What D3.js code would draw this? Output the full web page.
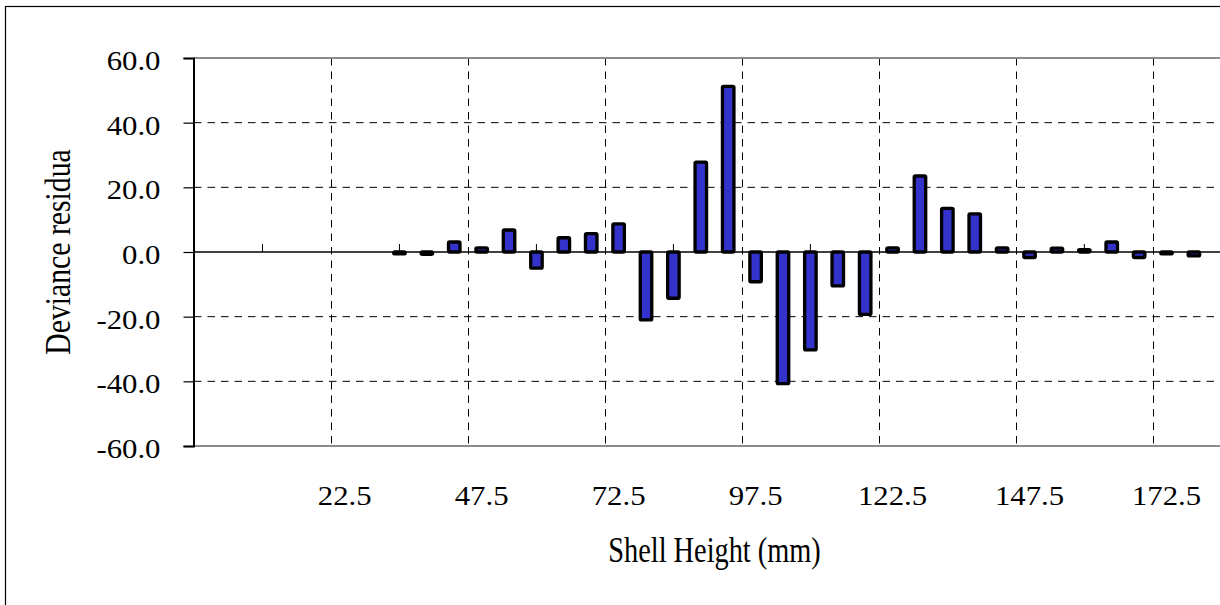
<!DOCTYPE html>
<html>
<head>
<meta charset="utf-8">
<script src="https://cdn.jsdelivr.net/npm/d3@7"></script>
<style>
  html, body { margin: 0; padding: 0; background: #fff; }
  svg { display: block; }
  text { font-family: "Liberation Serif", "Times New Roman", serif; fill: #000; }
</style>
</head>
<body>
<svg id="chart" width="1220" height="605"></svg>
<script>
// ---- data ----
const categories = [-2.5, 2.5, 7.5, 12.5, 17.5, 22.5, 27.5, 32.5, 37.5, 42.5,
  47.5, 52.5, 57.5, 62.5, 67.5, 72.5, 77.5, 82.5, 87.5, 92.5,
  97.5, 102.5, 107.5, 112.5, 117.5, 122.5, 127.5, 132.5, 137.5, 142.5,
  147.5, 152.5, 157.5, 162.5, 167.5, 172.5, 177.5, 182.5];
const residuals = [null, null, null, null, null, null, null,
  -0.6, -0.7, 3.1, 1.3, 6.8, -5.0, 4.4, 5.7, 8.7,
  -21.0, -14.3, 27.8, 51.2, -9.2, -40.7, -30.3, -10.5, -19.3, 1.3,
  23.5, 13.5, 11.8, 1.3, -1.7, 1.2, 0.7, 3.1, -1.7, -0.6, -1.2, null];
const xTickLabels = [22.5, 47.5, 72.5, 97.5, 122.5, 147.5, 172.5];
const xMinorTicks = [7.5, 32.5, 57.5, 82.5, 107.5, 132.5, 157.5, 182.5];
const yTicks = [-60, -40, -20, 0, 20, 40, 60];
const xTitle = "Shell Height (mm)";
const yTitle = "Deviance residua";

// ---- layout ----
const svg = d3.select("#chart");
const pLeft = 194, pRight = 1235, pTop = 58, pBottom = 446;

const x = d3.scaleBand().domain(categories).range([pLeft, pRight]).paddingInner(0).paddingOuter(0);
const y = d3.scaleLinear().domain([-60, 60]).range([pBottom, pTop]);
const bw = x.bandwidth();
const barW = bw * 0.42;

// outer chart frame
svg.append("rect").attr("x", 5.5).attr("y", 6.5).attr("width", 1400).attr("height", 800)
  .attr("fill", "none").attr("stroke", "#000").attr("stroke-width", 1.2);

// horizontal dashed gridlines
svg.append("g").selectAll("line").data(yTicks.filter(v => v !== 0 && Math.abs(v) !== 60)).join("line")
  .attr("x1", pLeft).attr("x2", 1220).attr("y1", d => y(d)).attr("y2", d => y(d))
  .attr("stroke", "#000").attr("stroke-width", 1).attr("stroke-dasharray", "7.5,6");

// vertical dashed gridlines at category boundaries before each labelled category
svg.append("g").selectAll("line").data(xTickLabels).join("line")
  .attr("x1", d => Math.round(x(d)) + 0.5).attr("x2", d => Math.round(x(d)) + 0.5)
  .attr("y1", pTop).attr("y2", pBottom)
  .attr("stroke", "#000").attr("stroke-width", 1).attr("stroke-dasharray", "7.5,6");

// plot area border (grey) top and bottom
svg.append("line").attr("x1", pLeft).attr("x2", 1220).attr("y1", y(60)).attr("y2", y(60))
  .attr("stroke", "#8c8c8c").attr("stroke-width", 2);
svg.append("line").attr("x1", pLeft).attr("x2", 1220).attr("y1", y(-60)).attr("y2", y(-60))
  .attr("stroke", "#8c8c8c").attr("stroke-width", 2);

// zero line (category axis)
svg.append("line").attr("x1", pLeft).attr("x2", 1220).attr("y1", y(0)).attr("y2", y(0))
  .attr("stroke", "#000").attr("stroke-width", 1.5);

// minor ticks on category axis
svg.append("g").selectAll("line").data(xMinorTicks).join("line")
  .attr("x1", d => x(d) + bw / 2).attr("x2", d => x(d) + bw / 2)
  .attr("y1", y(0) - 8).attr("y2", y(0))
  .attr("stroke", "#000").attr("stroke-width", 1);

// bars
const barData = categories.map((c, i) => ({ c, v: residuals[i] })).filter(d => d.v !== null);
svg.append("g").selectAll("rect").data(barData).join("rect")
  .attr("x", d => x(d.c) + (bw - barW) / 2)
  .attr("width", barW)
  .attr("y", d => y(Math.max(0, d.v)))
  .attr("height", d => Math.abs(y(d.v) - y(0)))
  .attr("rx", 1.2)
  .attr("fill", "#3333cc")
  .attr("stroke", "#000")
  .attr("stroke-width", 3.3)
  .attr("stroke-linejoin", "round");

// value axis
const yAxis = d3.axisLeft(y).tickValues(yTicks).tickSize(10).tickFormat(d => d.toFixed(1));
const gy = svg.append("g").attr("transform", `translate(${pLeft - 0.5},0)`).call(yAxis);
gy.select(".domain").attr("stroke", "#000").attr("stroke-width", 2);
gy.selectAll(".tick line").attr("stroke", "#000").attr("stroke-width", 1.2);
gy.selectAll(".tick text")
  .attr("x", null).attr("dy", null)
  .attr("font-size", 27)
  .attr("font-family", "Liberation Serif")
  .attr("fill", "#000")
  .attr("text-anchor", "end")
  .attr("transform", "translate(-33,11.5) scale(1.14,1)");

// category labels
svg.append("g").selectAll("text").data(xTickLabels).join("text")
  .attr("transform", d => `translate(${x(d) + bw / 2},505) scale(1.14,1)`)
  .attr("text-anchor", "middle")
  .attr("font-size", 27)
  .text(d => d.toFixed(1));

// axis titles
svg.append("text")
  .attr("transform", `translate(${(pLeft + pRight) / 2},562) scale(0.81,1)`)
  .attr("text-anchor", "middle").attr("font-size", 35)
  .text(xTitle);
svg.append("text")
  .attr("transform", `translate(70,${(pTop + pBottom) / 2}) rotate(-90) scale(0.85,1)`)
  .attr("text-anchor", "middle").attr("font-size", 35)
  .text(yTitle);
</script>
</body>
</html>
